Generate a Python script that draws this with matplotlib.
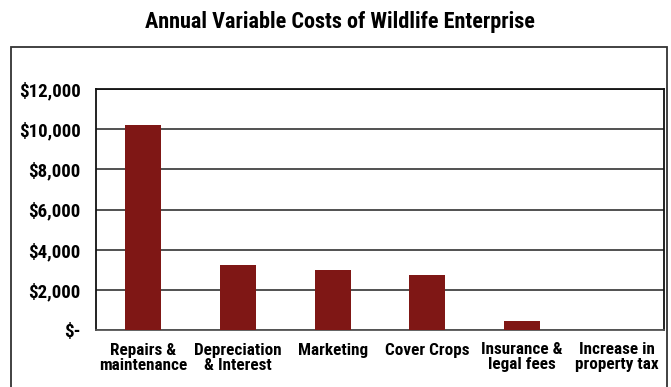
import matplotlib
matplotlib.use("Agg")
import matplotlib.pyplot as plt
from matplotlib.patches import Rectangle
from matplotlib.ticker import FuncFormatter

categories = ["Repairs &\nmaintenance", "Depreciation\n& Interest", "Marketing",
              "Cover Crops", "Insurance &\nlegal fees", "Increase in\nproperty tax"]
values = [10200, 3230, 2990, 2740, 450, 0]
yticks = [0, 2000, 4000, 6000, 8000, 10000, 12000]
title = "Annual Variable Costs of Wildlife Enterprise"

plt.rcParams['font.family'] = ['Roboto Condensed', 'DejaVu Sans']
plt.rcParams['font.weight'] = 'bold'

W, H = 671, 387
fig = plt.figure(figsize=(W/100, H/100), dpi=100)
ax = fig.add_axes([96/W, 1 - 330/H, (664-96)/W, (330-89)/H])

x = range(len(categories))
ax.bar(x, values, width=0.38, color='#7f1715', zorder=3)
ax.set_xlim(-0.5, len(categories) - 0.5)
ax.set_ylim(0, 12000)
ax.set_yticks(yticks)

def fmt(v, pos):
    if v == 0:
        return "$-"
    return "${:,.0f}".format(v)

ax.yaxis.set_major_formatter(FuncFormatter(fmt))
ax.set_xticks(list(x))
ax.set_xticklabels(categories, fontsize=12.3, fontweight='bold', linespacing=1.0)
for lab in ax.get_yticklabels():
    lab.set_fontsize(13.6)
    lab.set_fontweight('bold')
ax.tick_params(axis='both', length=0)
ax.tick_params(axis='y', pad=11)
ax.tick_params(axis='x', pad=9)
ax.grid(axis='y', color='#333333', linewidth=1.2, zorder=1)
for s in ax.spines.values():
    s.set_color('#111111')
    s.set_linewidth(1.3)
ax.spines['bottom'].set_color('#555555')

fig.text(340/W, 1 - 22/H, title, ha='center', va='center', fontsize=16, fontweight='bold')

border = Rectangle((10.5/W, -0.05), (667-10.5)/W, 1 - 47/H + 0.05, transform=fig.transFigure,
                   fill=False, edgecolor='#333333', linewidth=1.3)
fig.add_artist(border)

fig.savefig("out.png", dpi=100)
